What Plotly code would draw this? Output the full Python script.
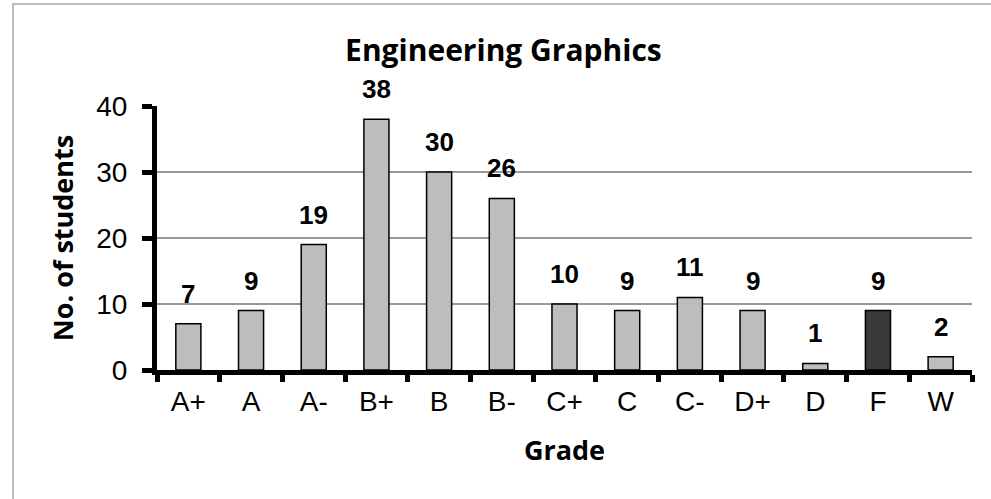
import plotly.graph_objects as go

grades = ["A+", "A", "A-", "B+", "B", "B-", "C+", "C", "C-", "D+", "D", "F", "W"]
students = [7, 9, 19, 38, 30, 26, 10, 9, 11, 9, 1, 9, 2]
bar_colors = ["#bdbdbd"] * 11 + ["#3a3a3a"] + ["#bdbdbd"]
y_ticks = [0, 10, 20, 30, 40]

fig = go.Figure()
fig.add_trace(go.Bar(
    x=grades, y=students, width=0.4,
    marker=dict(color=bar_colors, line=dict(color="black", width=1.5)),
    hoverinfo="x+y",
))

for g, v in zip(grades, students):
    fig.add_annotation(x=g, y=v, text="<b>" + str(v) + "</b>", showarrow=False, yanchor="bottom",
                       yshift=13, font=dict(family="Liberation Sans, Arial", size=26, color="black"),
                       xref="x", yref="y")

fig.update_layout(
    width=991, height=499,
    margin=dict(l=157, r=19, t=106, b=129),
    paper_bgcolor="white", plot_bgcolor="white",
    showlegend=False,
    title=dict(text="<b>Engineering Graphics</b>", x=0.508, xanchor="center",
               y=1 - 50 / 499, yanchor="middle", yref="container",
               font=dict(family="Open Sans", size=30, color="black")),
    bargap=0.6,
)

fig.update_xaxes(
    type="category",
    showline=True, linecolor="black", linewidth=5,
    ticks="outside", tickson="boundaries", ticklen=7, tickwidth=5, tickcolor="black",
    tickfont=dict(family="Liberation Sans, Arial", size=28, color="black"),
    ticklabelstandoff=2,
    title=dict(text="<b>Grade</b>", standoff=27,
               font=dict(family="Open Sans", size=27, color="black")),
    showgrid=False,
)
fig.update_yaxes(
    range=[0, 40], tickvals=y_ticks,
    showline=True, linecolor="black", linewidth=5,
    ticks="outside", ticklen=10, tickwidth=5, tickcolor="black",
    tickfont=dict(family="Liberation Sans, Arial", size=28, color="black"),
    ticklabelstandoff=9,
    showgrid=True, gridcolor="#999999", gridwidth=1.5,
    zeroline=False,
    title=dict(text="<b>No. of students</b>", standoff=16,
               font=dict(family="Open Sans", size=27, color="black")),
)

fig.add_shape(type="rect", xref="paper", yref="paper",
              x0=(13 - 157) / 815, x1=1.5, y0=-1.5, y1=(370 - 4) / 264,
              line=dict(color="#a6a6a6", width=1.5), layer="below")

fig.write_html("out.html", config={"displayModeBar": False},
               post_script="document.body.style.margin='0';")
